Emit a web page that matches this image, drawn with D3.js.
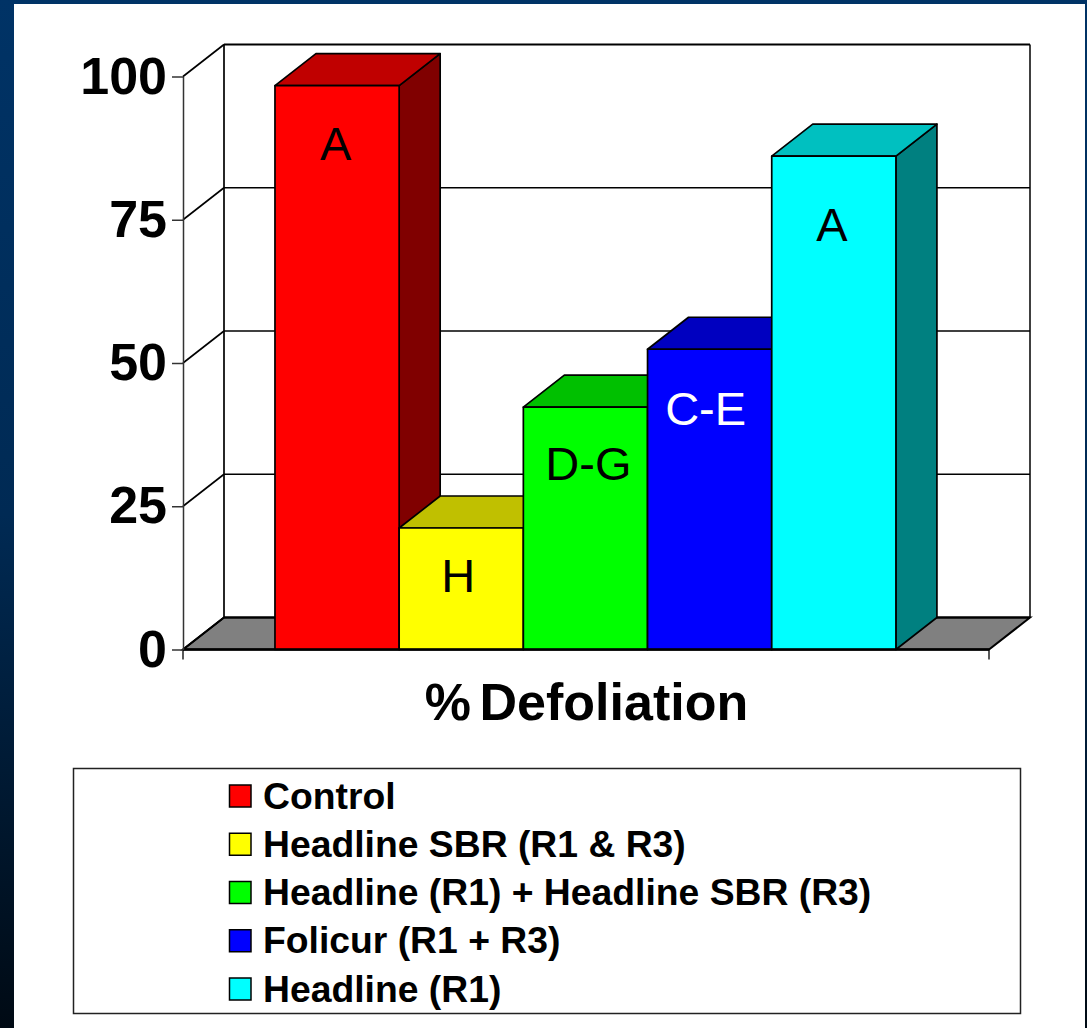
<!DOCTYPE html>
<html>
<head>
<meta charset="utf-8">
<script src="https://cdn.jsdelivr.net/npm/d3@7"></script>
<style>
  html, body { margin: 0; padding: 0; background: #000; overflow: hidden; }
  svg { display: block; }
  text { font-family: "Liberation Sans", Arial, sans-serif; fill: #000; }
</style>
</head>
<body>
<div id="chart"></div>
<script>
const categories = ['Control', 'Headline SBR (R1 & R3)', 'Headline (R1) + Headline SBR (R3)', 'Folicur (R1 + R3)', 'Headline (R1)'];
const defoliation = [98.4, 21.2, 42.3, 52.4, 86.1];
const letters = ['A', 'H', 'D-G', 'C-E', 'A'];
const letterColors = ['#000', '#000', '#000', '#fff', '#000'];
const frontColors = ['#ff0000', '#ffff00', '#00ff00', '#0000ff', '#00ffff'];
const topColors = ['#c00000', '#c0c000', '#00c000', '#0000c0', '#00c0c0'];
const sideColors = ['#800000', '#808000', '#008000', '#000080', '#008080'];
const yTicks = [0, 25, 50, 75, 100];
const axisTitle = '% Defoliation';

const width = 1087, height = 1028;
const depthX = 41, depthY = -32;   // offset of the back wall

const svg = d3.select('#chart').append('svg')
    .attr('width', width)
    .attr('height', height);

const grad = svg.append('defs').append('linearGradient')
    .attr('id', 'bg')
    .attr('x1', 0).attr('y1', 0).attr('x2', 0).attr('y2', 1);
grad.append('stop').attr('offset', '0%').attr('stop-color', '#003366');
grad.append('stop').attr('offset', '50%').attr('stop-color', '#002a54');
grad.append('stop').attr('offset', '100%').attr('stop-color', '#000a14');

svg.append('rect').attr('width', width).attr('height', height).attr('fill', 'url(#bg)');
svg.append('rect').attr('x', 14).attr('y', 4).attr('width', 1071).attr('height', 1024).attr('fill', '#fff');

const x = d3.scaleBand()
    .domain(categories)
    .range([183, 989])
    .paddingInner(0)
    .paddingOuter(0.745)
    .align(0.497);

const y = d3.scaleLinear().domain([0, 100]).range([649.5, 76.5]);

const poly = pts => pts.map(p => p.join(',')).join(' ');

// Floor
svg.append('polygon')
    .attr('points', poly([
        [x.range()[0], y(0)],
        [x.range()[1], y(0)],
        [x.range()[1] + depthX, y(0) + depthY],
        [x.range()[0] + depthX, y(0) + depthY]
    ]))
    .attr('fill', '#808080')
    .attr('stroke', '#000')
    .attr('stroke-width', 2);

// Back wall and gridlines
const grid = svg.append('g').attr('stroke', '#000').attr('fill', 'none');
grid.selectAll('line.back')
    .data(yTicks)
    .join('line')
    .attr('class', 'back')
    .attr('x1', x.range()[0] + depthX)
    .attr('x2', x.range()[1] + depthX)
    .attr('y1', d => y(d) + depthY)
    .attr('y2', d => y(d) + depthY)
    .attr('stroke-width', d => (d === 0 || d === 100) ? 2 : 1.4);
grid.selectAll('line.side')
    .data(yTicks)
    .join('line')
    .attr('class', 'side')
    .attr('x1', x.range()[0])
    .attr('x2', x.range()[0] + depthX)
    .attr('y1', d => y(d))
    .attr('y2', d => y(d) + depthY)
    .attr('stroke-width', 1.6);
grid.append('line')
    .attr('x1', x.range()[0] + depthX).attr('x2', x.range()[0] + depthX)
    .attr('y1', y(0) + depthY).attr('y2', y(100) + depthY)
    .attr('stroke-width', 1.7);
grid.append('line')
    .attr('x1', x.range()[1] + depthX).attr('x2', x.range()[1] + depthX)
    .attr('y1', y(0) + depthY).attr('y2', y(100) + depthY)
    .attr('stroke-width', 1.5);

// Bars
const bars = svg.append('g').selectAll('g')
    .data(categories)
    .join('g')
    .attr('stroke', '#000')
    .attr('stroke-width', 1.7)
    .attr('stroke-linejoin', 'round');

bars.each(function (d, i) {
    const el = d3.select(this);
    const x0 = x(d), x1 = x(d) + x.bandwidth();
    const top = y(defoliation[i]), base = y(0);
    el.append('polygon')
        .attr('points', poly([[x1, base], [x1 + depthX, base + depthY], [x1 + depthX, top + depthY], [x1, top]]))
        .attr('fill', sideColors[i]);
    el.append('polygon')
        .attr('points', poly([[x0, top], [x1, top], [x1 + depthX, top + depthY], [x0 + depthX, top + depthY]]))
        .attr('fill', topColors[i]);
    el.append('rect')
        .attr('x', x0)
        .attr('y', top)
        .attr('width', x.bandwidth())
        .attr('height', base - top)
        .attr('fill', frontColors[i]);
});

// Bar letters
const letterDrop = [74.5, 64, 72.5, 75.5, 84.5];
const letterShift = [-1.5, -3, 3, -4, -2];
svg.append('g').selectAll('text')
    .data(letters)
    .join('text')
    .attr('x', (d, i) => x(categories[i]) + x.bandwidth() / 2 + letterShift[i])
    .attr('y', (d, i) => y(defoliation[i]) + letterDrop[i])
    .attr('text-anchor', 'middle')
    .style('font-size', '47px')
    .style('fill', (d, i) => letterColors[i])
    .text(d => d);

// Floor front edge and category axis ends
svg.append('line')
    .attr('x1', x.range()[0]).attr('x2', x.range()[1])
    .attr('y1', y(0)).attr('y2', y(0))
    .attr('stroke', '#000').attr('stroke-width', 2.4);
svg.append('g').selectAll('line')
    .data(x.range())
    .join('line')
    .attr('x1', d => d).attr('x2', d => d)
    .attr('y1', y(0)).attr('y2', y(0) + 10)
    .attr('stroke', '#000').attr('stroke-width', 1.3);

// Value axis
const yAxis = svg.append('g')
    .attr('transform', `translate(${x.range()[0]},0)`)
    .call(d3.axisLeft(y).tickValues(yTicks).tickSize(11).tickPadding(5).tickSizeOuter(0));
yAxis.select('.domain').attr('stroke', '#333').attr('stroke-width', 1.5);
yAxis.selectAll('.tick line').attr('stroke', '#333').attr('stroke-width', 1.5);
yAxis.selectAll('.tick text')
    .attr('font-family', null)
    .attr('font-size', null)
    .style('font-size', '52px')
    .style('font-weight', 'bold')
    .style('fill', '#000');

// Axis title
svg.append('text')
    .attr('x', 586.5)
    .attr('y', 720)
    .attr('text-anchor', 'middle')
    .style('font-size', '52px')
    .style('font-weight', 'bold')
    .style('word-spacing', '-6px')
    .text(axisTitle);

// Legend
const legendRow = d3.scalePoint().domain(categories).range([796, 989]);
svg.append('rect')
    .attr('x', 73.5).attr('y', 768.5)
    .attr('width', 947).attr('height', 245)
    .attr('fill', '#fff')
    .attr('stroke', '#222').attr('stroke-width', 1.5);
const legend = svg.append('g').selectAll('g')
    .data(categories)
    .join('g')
    .attr('transform', d => `translate(0,${legendRow(d)})`);
legend.append('rect')
    .attr('x', 229.5).attr('y', -11)
    .attr('width', 21.5).attr('height', 22)
    .attr('fill', (d, i) => frontColors[i])
    .attr('stroke', '#000').attr('stroke-width', 1.5);
legend.append('text')
    .attr('x', 263)
    .attr('y', 12.5)
    .style('font-size', '37.3px')
    .style('font-weight', 'bold')
    .text(d => d);
</script>
</body>
</html>
